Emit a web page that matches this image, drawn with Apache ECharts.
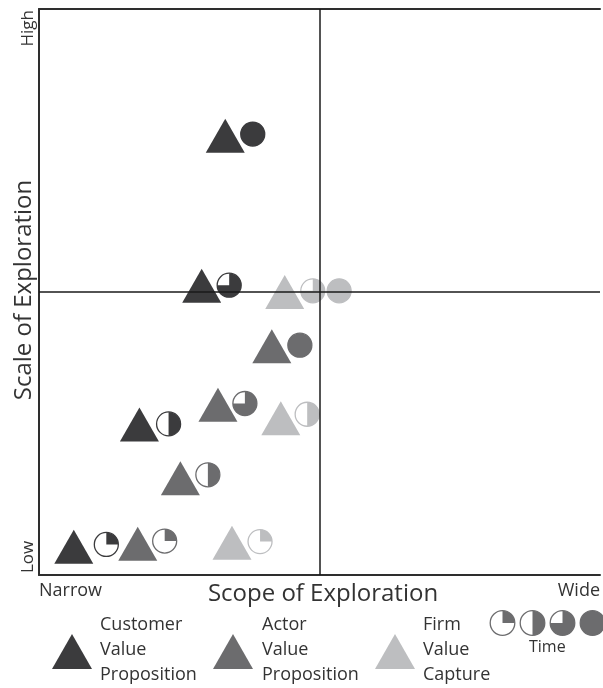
<!DOCTYPE html>
<html>
<head>
<meta charset="utf-8">
<script src="https://cdn.jsdelivr.net/npm/echarts@6/dist/echarts.min.js"></script>
<style>
  html, body { margin: 0; padding: 0; background: #fff; }
  #chart { width: 603px; height: 688px; }
</style>
</head>
<body>
<div id="chart"></div>
<script>
  // groups and colours
  const groupNames = [['Customer', 'Value', 'Proposition'], ['Actor', 'Value', 'Proposition'], ['Firm', 'Value', 'Capture']];
  const groupColors = ['#3b3b3d', '#6c6c6e', '#bdbec0'];

  // triangle positions: [scope, scale] on a 0-100 scale
  const customerTriangles = [[33.2, 77.6], [29.0, 51.1], [17.9, 26.6], [6.2, 5.0]];
  const actorTriangles = [[41.5, 40.4], [31.9, 30.1], [25.2, 17.1], [17.6, 5.5]];
  const firmTriangles = [[43.8, 50.0], [43.1, 27.7], [34.4, 5.7]];

  // time circles: [scope, scale, share of time elapsed]
  const customerTime = [[38.1, 77.9, 1], [33.9, 51.2, 0.75], [23.1, 26.7, 0.5], [12.0, 5.4, 0.25]];
  const actorTime = [[46.5, 40.6, 1], [36.7, 30.3, 0.75], [30.1, 17.7, 0.5], [22.4, 6.0, 0.25]];
  const firmTime = [[48.8, 50.2, 0.75], [53.5, 50.2, 1], [47.8, 28.4, 0.5], [39.4, 5.9, 0.25]];

  // axis end labels
  const scopeLabels = ['Narrow', 'Wide'];
  const scaleLabels = ['Low', 'High'];
  const timeSteps = [0.25, 0.5, 0.75, 1];

  const FONT = 'Open Sans';
  const TEXT = '#333';
  const R = 12;

  const chart = echarts.init(document.getElementById('chart'));

  // pie-like circle: filled clockwise from 12 o'clock
  const pieShapes = (cx, cy, r, f, color) => {
    const children = [{
      type: 'circle',
      shape: { cx, cy, r },
      style: { fill: f >= 1 ? color : '#fff', stroke: color, lineWidth: 1.3 },
    }];
    if (f < 1) {
      children.push({
        type: 'sector',
        shape: { cx, cy, r0: 0, r, startAngle: -Math.PI / 2, endAngle: -Math.PI / 2 + Math.PI * 2 * f, clockwise: true },
        style: { fill: color },
      });
    }
    return children;
  };

  const renderTime = (color) => (params, api) => {
    const c = api.coord([api.value(0), api.value(1)]);
    return { type: 'group', children: pieShapes(c[0], c[1], R, api.value(2), color) };
  };

  const triangleSets = [customerTriangles, actorTriangles, firmTriangles];
  const timeSets = [customerTime, actorTime, firmTime];

  const series = [
    {
      type: 'scatter',
      data: [],
      silent: true,
      z: 1,
      markLine: {
        silent: true,
        symbol: 'none',
        label: { show: false },
        lineStyle: { color: '#1a1a1a', width: 1.5, type: 'solid' },
        data: [{ xAxis: 50 }, { yAxis: 50 }],
      },
    },
  ];

  triangleSets.forEach((data, i) => {
    series.push({
      type: 'scatter',
      symbol: 'triangle',
      symbolSize: [39, 34],
      itemStyle: { color: groupColors[i], opacity: 1 },
      data,
      z: 3,
    });
    series.push({
      type: 'custom',
      renderItem: renderTime(groupColors[i]),
      data: timeSets[i],
      z: 4,
    });
  });

  // legend drawn as graphics
  const graphic = [];
  const legendX = [72, 233, 395];
  const legendTextX = [100, 262, 423];
  groupNames.forEach((lines, i) => {
    const cx = legendX[i];
    graphic.push({
      type: 'polygon',
      shape: { points: [[cx, 634], [cx + 20, 669], [cx - 20, 669]] },
      style: { fill: groupColors[i] },
    });
    lines.forEach((t, j) => {
      graphic.push({
        type: 'text',
        left: legendTextX[i],
        top: 616 + j * 25,
        style: { text: t, font: '18px "' + FONT + '"', fill: TEXT },
      });
    });
  });
  timeSteps.forEach((f, i) => {
    graphic.push({
      type: 'group',
      children: pieShapes(502.5 + i * 30, 623, 12.3, f, groupColors[1]),
    });
  });
  graphic.push({
    type: 'text',
    left: 529,
    top: 639,
    style: { text: 'Time', font: '16px "' + FONT + '"', fill: TEXT },
  });
  // scale end labels (rotated)
  graphic.push({
    type: 'text',
    x: 37, y: 10, rotation: Math.PI / 2,
    style: { text: scaleLabels[1], font: '17px "' + FONT + '"', fill: TEXT, align: 'right', verticalAlign: 'bottom' },
  });
  graphic.push({
    type: 'text',
    x: 37, y: 573, rotation: Math.PI / 2,
    style: { text: scaleLabels[0], font: '17px "' + FONT + '"', fill: TEXT, align: 'left', verticalAlign: 'bottom' },
  });
  // axis titles
  graphic.push({
    type: 'text',
    x: 323, y: 594,
    style: { text: 'Scope of Exploration', font: '24px "' + FONT + '"', fill: TEXT, align: 'center', verticalAlign: 'middle' },
  });
  graphic.push({
    type: 'text',
    x: 24, y: 290, rotation: Math.PI / 2,
    style: { text: 'Scale of Exploration', font: '24px "' + FONT + '"', fill: TEXT, align: 'center', verticalAlign: 'middle' },
  });

  chart.setOption({
    animation: false,
    grid: { left: 39, right: 0, top: 9, bottom: 113 },
    xAxis: [
      {
        type: 'value',
        min: 0,
        max: 100,
        interval: 100,
        position: 'bottom',
        axisLine: { show: true, lineStyle: { color: '#2e2e2e', width: 2 } },
        axisTick: { show: false },
        splitLine: { show: false },
        axisLabel: {
          margin: 7,
          color: TEXT,
          fontFamily: FONT,
          fontSize: 18,
          alignMinLabel: 'left',
          alignMaxLabel: 'right',
          formatter: (v) => (v === 0 ? scopeLabels[0] : scopeLabels[1]),
        },
      },
      {
        type: 'value',
        min: 0,
        max: 100,
        position: 'top',
        axisLine: { show: true, lineStyle: { color: '#2e2e2e', width: 2 } },
        axisTick: { show: false },
        axisLabel: { show: false },
        splitLine: { show: false },
      },
    ],
    yAxis: {
      type: 'value',
      min: 0,
      max: 100,
      axisLine: { show: true, lineStyle: { color: '#2e2e2e', width: 2 } },
      axisTick: { show: false },
      axisLabel: { show: false },
      splitLine: { show: false },
    },
    graphic,
    series,
  });
</script>
</body>
</html>
